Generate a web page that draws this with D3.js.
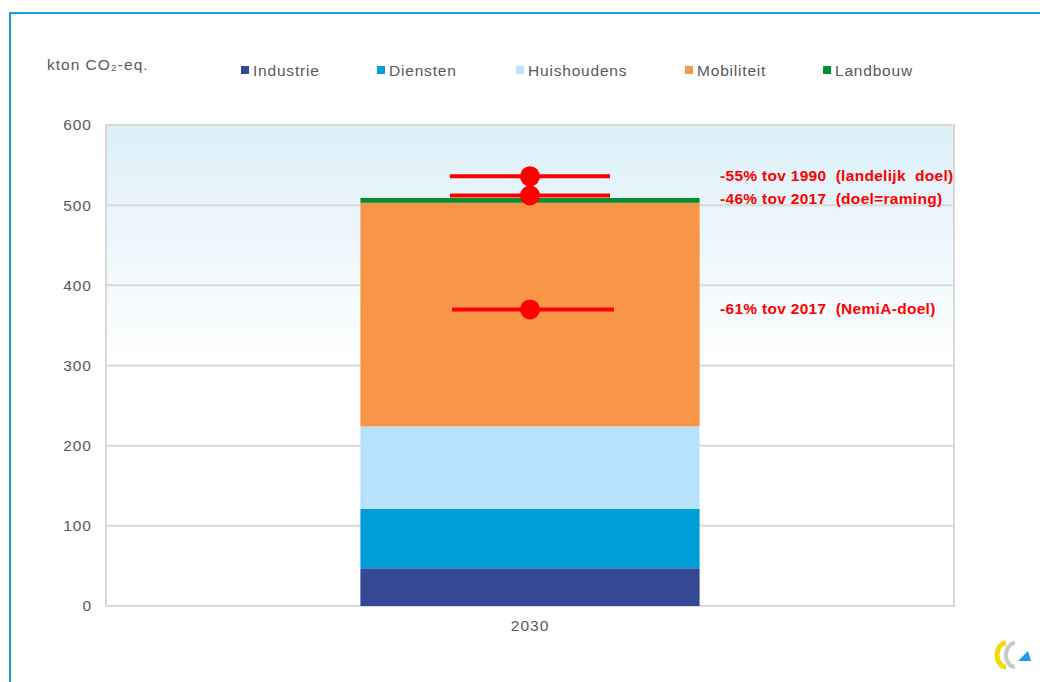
<!DOCTYPE html>
<html>
<head>
<meta charset="utf-8">
<script src="https://cdn.jsdelivr.net/npm/d3@7"></script>
<style>
  body { margin: 0; background: #fff; }
  text { font-family: Arial, "Liberation Sans", sans-serif; }
</style>
</head>
<body>
<div id="chart"></div>
<script>
const width = 1040
const height = 682

// data
const years = ["2030"]
const sectors = ["Industrie", "Diensten", "Huishoudens", "Mobiliteit", "Landbouw"]
const values2030 = [47, 74, 103, 279, 6]
const sectorColors = ["#344893", "#009dd9", "#b8e3fd", "#f79646", "#078c31"]
const targetValues = [536, 512, 370]
const targetLabels = ["-55% tov 1990  (landelijk  doel)", "-46% tov 2017  (doel=raming)", "-61% tov 2017  (NemiA-doel)"]
const yTicks = [0, 100, 200, 300, 400, 500, 600]

const margin = {top: 125, right: 86, bottom: 76, left: 106}
const innerW = width - margin.left - margin.right
const innerH = height - margin.top - margin.bottom

const svg = d3.select("#chart").append("svg")
    .attr("width", width)
    .attr("height", height)

// outer frame
svg.append("rect")
    .attr("x", 10).attr("y", 13)
    .attr("width", width).attr("height", height)
    .attr("fill", "none")
    .attr("stroke", "#1a9fd9")
    .attr("stroke-width", 2)

const defs = svg.append("defs")
const grad = defs.append("linearGradient")
    .attr("id", "bg").attr("x1", 0).attr("y1", 0).attr("x2", 0).attr("y2", 1)
grad.append("stop").attr("offset", "0%").attr("stop-color", "#dcf0f8")
grad.append("stop").attr("offset", "50%").attr("stop-color", "#ffffff")
grad.append("stop").attr("offset", "100%").attr("stop-color", "#ffffff")

const g = svg.append("g").attr("transform", `translate(${margin.left},${margin.top})`)

const y = d3.scaleLinear().domain([0, 600]).range([innerH, 0])
const x = d3.scaleBand().domain(years).range([0, innerW]).paddingInner(0).paddingOuter(0.75)

g.append("rect")
    .attr("width", innerW).attr("height", innerH)
    .attr("fill", "url(#bg)")
    .attr("stroke", "#d9d9d9")
    .attr("stroke-width", 2)

// gridlines
g.selectAll(".grid")
    .data(yTicks.filter(d => d > 0 && d < 600))
    .enter().append("line")
    .attr("x1", 0).attr("x2", innerW)
    .attr("y1", d => y(d)).attr("y2", d => y(d))
    .attr("stroke", "#d9d9d9").attr("stroke-width", 2)

// y axis labels
const yAxis = g.append("g")
    .call(d3.axisLeft(y).tickValues(yTicks).tickSize(0).tickPadding(14))
yAxis.select(".domain").remove()
yAxis.selectAll("text").attr("font-size", 15.5).attr("letter-spacing", 1).attr("fill", "#595959")

// x axis label
const xAxis = g.append("g").attr("transform", `translate(0,${innerH})`)
    .call(d3.axisBottom(x).tickSize(0).tickPadding(14))
xAxis.select(".domain").remove()
xAxis.selectAll("text").attr("font-size", 15.5).attr("letter-spacing", 1).attr("fill", "#595959")

// stacked bar
const stackData = [Object.fromEntries(sectors.map((s, i) => [s, values2030[i]]))]
stackData[0].year = years[0]
const series = d3.stack().keys(sectors)(stackData)

g.selectAll(".seg")
    .data(series)
    .enter().append("rect")
    .attr("x", x(years[0]))
    .attr("width", x.bandwidth())
    .attr("y", d => y(d[0][1]))
    .attr("height", d => y(d[0][0]) - y(d[0][1]))
    .attr("fill", (d, i) => sectorColors[i])

// target markers
const cx = x(years[0]) + x.bandwidth() / 2
const markers = g.selectAll(".target")
    .data(targetValues)
    .enter().append("g")
    .attr("transform", d => `translate(${cx},${y(d)})`)
markers.append("line")
    .attr("x1", (d, i) => i === 2 ? -78 : -80)
    .attr("x2", (d, i) => i === 2 ? 84 : 80)
    .attr("stroke", "#ff0000").attr("stroke-width", 4)
markers.append("circle").attr("r", 10).attr("fill", "#ff0000")

g.selectAll(".tlabel")
    .data(targetLabels)
    .enter().append("text")
    .attr("x", 614)
    .attr("y", (d, i) => y(targetValues[i]) + (i === 1 ? 8 : 5))
    .attr("font-size", 15.5).attr("font-weight", "bold")
    .attr("letter-spacing", 0.3)
    .attr("fill", "#ff0000")
    .attr("xml:space", "preserve")
    .text(d => d)

// unit label
svg.append("text")
    .attr("x", 47).attr("y", 70)
    .attr("font-size", 15.5).attr("letter-spacing", 1).attr("fill", "#595959")
    .text("kton CO\u2082-eq.")

// legend
const legendX = [241, 377, 516, 685, 823]
const legend = svg.selectAll(".legend")
    .data(sectors)
    .enter().append("g")
    .attr("transform", (d, i) => `translate(${legendX[i]},71)`)
legend.append("rect")
    .attr("x", 0).attr("y", -5)
    .attr("width", 8).attr("height", 8)
    .attr("fill", (d, i) => sectorColors[i])
legend.append("text")
    .attr("x", 12).attr("y", 5)
    .attr("font-size", 15.5).attr("letter-spacing", 0.8).attr("fill", "#595959")
    .text(d => d)

// small logo, bottom right
const logo = svg.append("g").attr("transform", "translate(1000,655)")
logo.append("path")
    .attr("d", "M 6,-12 A 9,12 0 1 0 6,12")
    .attr("fill", "none").attr("stroke", "#f2d90c").attr("stroke-width", 5)
logo.append("path")
    .attr("d", "M 15,-12 A 9,12 0 1 0 15,12")
    .attr("fill", "none").attr("stroke", "#c8c8c8").attr("stroke-width", 4)
logo.append("path")
    .attr("d", "M 18,6 L 31,6 L 28,-4 Z")
    .attr("fill", "#1aa0e0")
</script>
</body>
</html>
